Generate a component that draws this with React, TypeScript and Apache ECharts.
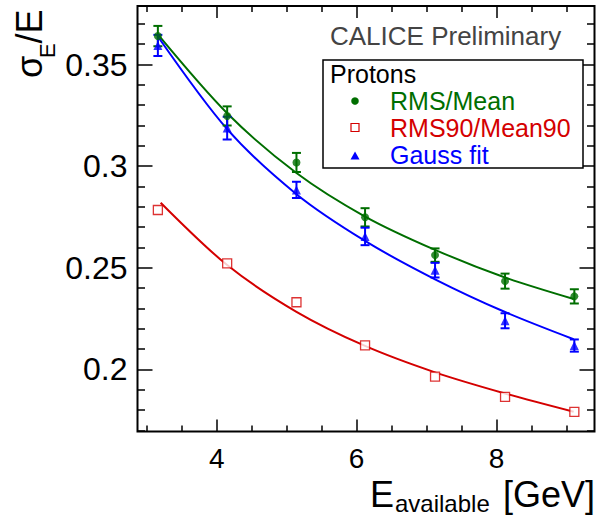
import React, { useEffect, useRef } from 'react';
import * as echarts from 'echarts';

// ---- data ----
const energies = [3.16, 4.15, 5.14, 6.12, 7.12, 8.12, 9.11];
const rmsMean = [0.364, 0.3247, 0.3018, 0.2748, 0.2562, 0.2434, 0.2359];
const rmsMeanErr = [0.005, 0.0047, 0.0047, 0.0045, 0.0033, 0.0037, 0.0035];
const rms90 = [0.2784, 0.2521, 0.233, 0.2118, 0.1964, 0.1864, 0.1791];
const gaussFit = [0.3594, 0.3187, 0.2883, 0.2654, 0.2488, 0.2239, 0.2117];
const gaussFitErr = [0.0052, 0.0056, 0.004, 0.0043, 0.0036, 0.0037, 0.003];

// fitted curves
const fitRmsX = [3.16, 4.15, 5.14, 6.12, 7.12, 8.12, 9.1];
const fitRmsY = [0.3648, 0.326, 0.2966, 0.2752, 0.2588, 0.2452, 0.2346];
const fitGaussX = [3.16, 4.15, 5.14, 6.12, 7.12, 8.12, 9.1];
const fitGaussY = [0.3638, 0.3182, 0.2862, 0.2632, 0.2443, 0.2282, 0.2148];
const fitRms90X = [3.2, 4.15, 5.14, 6.12, 7.12, 8.12, 9.1];
const fitRms90Y = [0.282, 0.2513, 0.2283, 0.2115, 0.1985, 0.1881, 0.1791];

// ticks
const xMajorTicks = [4, 6, 8];
const xMinorTicks = [3, 3.5, 4.5, 5, 5.5, 6.5, 7, 7.5, 8.5, 9];
const yMajorTicks = [0.2, 0.25, 0.3, 0.35];
const yMinorTicks = [0.17, 0.18, 0.19, 0.21, 0.22, 0.23, 0.24, 0.26, 0.27, 0.28, 0.29, 0.31, 0.32, 0.33, 0.34, 0.36, 0.37];

const legendTitle = 'Protons';
const seriesNames = ['RMS/Mean', 'RMS90/Mean90', 'Gauss fit'];

const X_MIN = 2.869;
const X_MAX = 9.398;
const Y_MIN = 0.1694;
const Y_MAX = 0.3788;

const GREEN = '#006e00';
const RED = '#d40000';
const BLUE = '#0000ff';
const FONT = '"Liberation Sans", Arial, Helvetica, sans-serif';

function errorBarSeries(name: string, xs: number[], ys: number[], es: number[], color: string) {
  return {
    type: 'custom',
    name,
    xAxisIndex: 0,
    yAxisIndex: 0,
    data: xs.map((x, i) => [x, ys[i], es[i]]),
    encode: { x: 0, y: 1 },
    z: 3,
    renderItem: (_params: any, api: any) => {
      const x = api.value(0);
      const y = api.value(1);
      const e = api.value(2);
      const top = api.coord([x, y + e]);
      const bot = api.coord([x, y - e]);
      const hw = 4.5;
      const st = { stroke: color, lineWidth: 2 };
      return {
        type: 'group',
        children: [
          { type: 'line', shape: { x1: top[0], y1: top[1], x2: bot[0], y2: bot[1] }, style: st },
          { type: 'line', shape: { x1: top[0] - hw, y1: top[1], x2: top[0] + hw, y2: top[1] }, style: st },
          { type: 'line', shape: { x1: bot[0] - hw, y1: bot[1], x2: bot[0] + hw, y2: bot[1] }, style: st },
        ],
      };
    },
  };
}

function txt(text: string, x: number, y: number, size: number, color: string, extra: any = {}) {
  return {
    type: 'text',
    x,
    y,
    silent: true,
    z: 100,
    ...extra,
    style: {
      text,
      fontSize: size,
      fontFamily: FONT,
      fill: color,
      align: extra.align || 'left',
      textAlign: extra.align || 'left',
      verticalAlign: 'middle',
      textVerticalAlign: 'middle',
    },
  };
}

function tickAxis(kind: 'x' | 'y', position: string, values: number[], length: number, labels: boolean) {
  const base: any = {
    type: 'value',
    min: kind === 'x' ? X_MIN : Y_MIN,
    max: kind === 'x' ? X_MAX : Y_MAX,
    position,
    axisLine: { show: false, onZero: false },
    splitLine: { show: false },
    axisTick: {
      show: true,
      inside: true,
      length,
      customValues: values,
      lineStyle: { color: '#000', width: 1.5 },
    },
    axisLabel: labels
      ? {
          show: true,
          customValues: values,
          color: '#000',
          fontFamily: FONT,
          fontSize: kind === 'x' ? 28 : 32,
          margin: kind === 'x' ? 13 : 10,
          showMinLabel: true,
          showMaxLabel: true,
          formatter: (v: number) => String(Math.round(v * 1000) / 1000),
        }
      : { show: false },
  };
  return base;
}

function fitLine(name: string, xs: number[], ys: number[], color: string) {
  return {
    type: 'line',
    name,
    data: xs.map((x, i) => [x, ys[i]]),
    smooth: 0.3,
    showSymbol: false,
    lineStyle: { color, width: 2 },
    z: 2,
  };
}

export default function App() {
  const ref = useRef<HTMLDivElement>(null);

  useEffect(() => {
    document.body.style.margin = '0';
    if (!ref.current) return;
    const chart = echarts.init(ref.current, undefined, { renderer: 'svg' });

    const option: any = {
      animation: false,
      backgroundColor: '#fff',
      grid: {
        left: 137.5,
        right: 5.5,
        top: 6,
        bottom: 92.5,
        show: true,
        borderColor: '#000',
        borderWidth: 2,
        backgroundColor: 'transparent',
      },
      xAxis: [
        tickAxis('x', 'bottom', xMajorTicks, 12, true),
        tickAxis('x', 'bottom', xMinorTicks, 6, false),
        tickAxis('x', 'top', xMajorTicks, 12, false),
        tickAxis('x', 'top', xMinorTicks, 6, false),
      ],
      yAxis: [
        tickAxis('y', 'left', yMajorTicks, 15, true),
        tickAxis('y', 'left', yMinorTicks, 7.5, false),
        tickAxis('y', 'right', yMajorTicks, 15, false),
        tickAxis('y', 'right', yMinorTicks, 7.5, false),
      ],
      series: [
        fitLine('fit ' + seriesNames[0], fitRmsX, fitRmsY, GREEN),
        fitLine('fit ' + seriesNames[1], fitRms90X, fitRms90Y, RED),
        fitLine('fit ' + seriesNames[2], fitGaussX, fitGaussY, BLUE),
        errorBarSeries('err ' + seriesNames[0], energies, rmsMean, rmsMeanErr, GREEN),
        errorBarSeries('err ' + seriesNames[2], energies, gaussFit, gaussFitErr, BLUE),
        {
          type: 'scatter',
          name: seriesNames[0],
          data: energies.map((x, i) => [x, rmsMean[i]]),
          symbol: 'circle',
          symbolSize: 8,
          itemStyle: { color: GREEN },
          z: 4,
        },
        {
          type: 'scatter',
          name: seriesNames[1],
          data: energies.map((x, i) => [x, rms90[i]]),
          symbol: 'rect',
          symbolSize: 9,
          itemStyle: { color: '#fff', borderColor: RED, borderWidth: 1.3 },
          z: 4,
        },
        {
          type: 'scatter',
          name: seriesNames[2],
          data: energies.map((x, i) => [x, gaussFit[i]]),
          symbol: 'triangle',
          symbolSize: 9,
          itemStyle: { color: BLUE },
          z: 4,
        },
      ],
      graphic: [
        // CALICE label
        txt('CALICE Preliminary', 330, 36, 26, '#444444'),
        // legend box
        {
          type: 'rect',
          z: 90,
          shape: { x: 323, y: 60, width: 260, height: 108 },
          style: { fill: '#fff', stroke: '#000', lineWidth: 1.5 },
        },
        txt(legendTitle, 330, 74, 25, '#000'),
        { type: 'circle', z: 100, shape: { cx: 355, cy: 101, r: 3.8 }, style: { fill: GREEN } },
        txt(seriesNames[0], 390, 101.3, 25, GREEN),
        {
          type: 'rect',
          z: 100,
          shape: { x: 351, y: 123.5, width: 8, height: 8 },
          style: { fill: '#fff', stroke: RED, lineWidth: 1.2 },
        },
        txt(seriesNames[1], 390, 127.5, 25, RED),
        {
          type: 'polygon',
          z: 100,
          shape: { points: [[355, 151.5], [359.5, 159.5], [350.5, 159.5]] },
          style: { fill: BLUE },
        },
        txt(seriesNames[2], 390, 154.5, 25, BLUE),
        // x-axis title: E_available [GeV]
        txt('E', 370, 494.5, 36, '#000'),
        txt('available', 395, 503.5, 24, '#000'),
        txt('[GeV]', 595, 494.5, 36, '#000', { align: 'right' }),
        // y-axis title: sigma_E / E (rotated)
        txt('σ', 29.5, 78, 36, '#000', { rotation: Math.PI / 2 }),
        txt('E', 47, 58, 22, '#000', { rotation: Math.PI / 2 }),
        txt('/E', 29.5, 43.5, 36, '#000', { rotation: Math.PI / 2 }),
      ],
    };

    chart.setOption(option);
    return () => {
      chart.dispose();
    };
  }, []);

  return <div ref={ref} style={{ width: 600, height: 524 }} />;
}
